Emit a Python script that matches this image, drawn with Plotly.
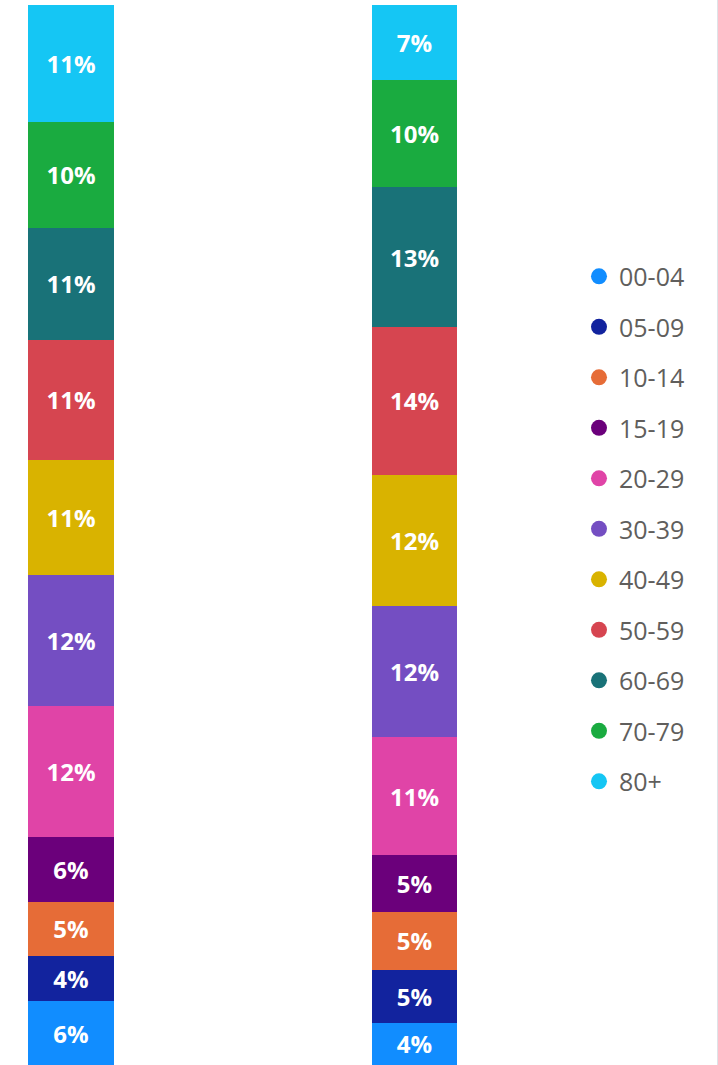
import plotly.graph_objects as go

# Age bands, bottom of the stack first
age_bands = ["00-04", "05-09", "10-14", "15-19", "20-29", "30-39",
             "40-49", "50-59", "60-69", "70-79", "80+"]
band_colors = ["#118DFF", "#12239E", "#E66C37", "#6B007B", "#E044A7", "#744EC2",
               "#D9B300", "#D64550", "#197278", "#1AAB40", "#15C6F4"]

groups = ["Population", "Cases"]

# Share of each group (percent) per age band
population_share = [6.0, 4.3, 5.1, 6.1, 12.4, 12.3, 10.9, 11.3, 10.6, 10.0, 11.0]
cases_share = [4.0, 5.0, 5.4, 5.4, 11.1, 12.4, 12.4, 13.9, 13.2, 10.1, 7.1]

fig = go.Figure()

for i, band in enumerate(age_bands):
    fig.add_trace(go.Bar(
        x=groups,
        y=[population_share[i], cases_share[i]],
        name=band,
        legendgroup=band,
        showlegend=False,
        width=0.25,
        marker=dict(color=band_colors[i], line=dict(width=0)),
        texttemplate="%{y:.0f}%",
        textposition="inside",
        insidetextanchor="middle",
        textangle=0,
        constraintext="none",
        insidetextfont=dict(family="Open Sans", size=24, color="white", weight="bold"),
        hovertemplate=band + ": %{y:.1f}%<extra></extra>",
    ))

# Circle markers for the legend entries
for i, band in enumerate(age_bands):
    fig.add_trace(go.Scatter(
        x=[None], y=[None],
        mode="markers",
        name=band,
        legendgroup=band,
        marker=dict(symbol="circle", size=16, color=band_colors[i]),
        hoverinfo="skip",
    ))

fig.update_layout(
    width=718,
    height=1065,
    margin=dict(l=0, r=0, t=5, b=0),
    barmode="stack",
    plot_bgcolor="white",
    paper_bgcolor="white",
    showlegend=True,
    legend=dict(
        x=0.8064, xanchor="left",
        y=0.7655, yanchor="top",
        traceorder="grouped",
        tracegroupgap=15,
        itemsizing="trace",
        font=dict(family="Open Sans", size=25, color="#605E5C"),
        bgcolor="rgba(0,0,0,0)",
        borderwidth=0,
    ),
    xaxis=dict(
        range=[-0.2067, 1.8835],
        showticklabels=False, showgrid=False, zeroline=False, showline=False,
        ticks="", fixedrange=True,
    ),
    yaxis=dict(
        range=[0, 100],
        showticklabels=False, showgrid=False, zeroline=False, showline=False,
        ticks="", fixedrange=True,
    ),
    shapes=[dict(
        type="line", xref="paper", yref="paper",
        x0=0.9993, x1=0.9993, y0=-0.01, y1=1.01,
        line=dict(color="#DEE3E8", width=1),
        layer="above",
    )],
)

fig.write_html("out.html")
